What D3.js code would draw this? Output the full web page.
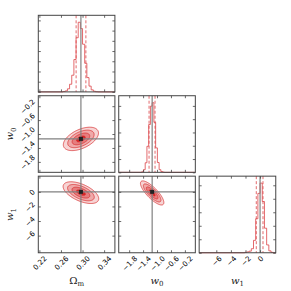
<!DOCTYPE html>
<html>
<head>
<meta charset="utf-8">
<script src="https://cdn.jsdelivr.net/npm/d3@7"></script>
<style>
  body { margin: 0; background: #fff; }
</style>
</head>
<body>
<div id="chart"></div>
<script>

// axis ranges, ticks and truth values per parameter
var omRange = [0.218, 0.360];
var w0Range = [-2.1, 0.1];
var w1Range = [-8.35, 2.15];
var omTicks = [0.22, 0.26, 0.30, 0.34];
var w0Ticks = [-1.8, -1.4, -1.0, -0.6, -0.2];
var w1Ticks = [-6, -4, -2, 0];
var truths = [0.297, -1.14, 0.0];

// 1d histograms: first bin edge, bin width, counts
var omBin = [0.264, 0.004];
var omCounts = [2, 6, 18, 45, 98, 190, 318, 409, 372, 280, 168, 84, 34, 12, 4, 1];
var w0Bin = [-1.44, 0.05];
var w0Counts = [4, 20, 72, 196, 360, 498, 524, 376, 184, 74, 20, 6, 2];
var w1Bin = [-2.1, 0.3];
var w1Counts = [3, 6, 12, 30, 92, 252, 440, 516, 380, 182, 58, 14, 3];
var histYStep = [60, 100, 100];

// 16% / 84% quantiles (dashed)
var omQuant = [0.2881, 0.3062];
var w0Quant = [-1.229, -1.057];
var w1Quant = [-0.52, 0.40];

// 2d contours: centre x, centre y, half width, half height (outer level), correlation
var omW0 = [0.297, -1.14, 0.0326, 0.336, 0.5];
var omW1 = [0.297, -0.11, 0.033, 1.49, -0.56];
var w0W1 = [-1.14, -0.15, 0.336, 1.65, -0.8];
var levelScale = [1, 0.75, 0.5, 0.25];
var levelAlpha = [0.2, 0.4, 0.6, 1.0];

var params = [
  { range: omRange, ticks: omTicks, fmt: d3.format(".2f"), bin: omBin, counts: omCounts, quant: omQuant },
  { range: w0Range, ticks: w0Ticks, fmt: d3.format(".1f"), bin: w0Bin, counts: w0Counts, quant: w0Quant },
  { range: w1Range, ticks: w1Ticks, fmt: d3.format("d"), bin: w1Bin, counts: w1Counts, quant: w1Quant }
];
var pairs = { "1,0": omW0, "2,0": omW1, "2,1": w0W1 };

var W = 291, H = 291;
var L = 38.3, T = 15.3, P = 76.6, G = 3.83;
var red = "#d62728", histColor = "#dc4448", frameColor = "#444", truthColor = "#808080";
var fs = 7.2, tl = 2.5, pad = 2;

var svg = d3.select("#chart").append("svg")
  .attr("width", W).attr("height", H)
  .style("font-family", "'DejaVu Sans', sans-serif");

function xScale(i) {
  var x0 = L + i * (P + G);
  return d3.scaleLinear().domain(params[i].range).range([x0, x0 + P]);
}
function yScale(j) {
  var y0 = T + j * (P + G);
  return d3.scaleLinear().domain(params[j].range).range([y0 + P, y0]);
}

// rotated tick labels, centred like matplotlib rotation=45
function xLabels(g) {
  g.selectAll(".tick text").each(function () {
    var t = d3.select(this);
    t.attr("y", 0).attr("dy", null).attr("x", 0)
      .attr("text-anchor", "middle").attr("dominant-baseline", "central");
    var w = this.getComputedTextLength();
    var half = (w + fs) * 0.7071 / 2;
    t.attr("transform", "translate(0," + (pad + half) + ") rotate(-45)");
  });
}
function yLabels(g) {
  g.selectAll(".tick text").each(function () {
    var t = d3.select(this);
    t.attr("x", 0).attr("dy", null).attr("y", 0)
      .attr("text-anchor", "middle").attr("dominant-baseline", "central");
    var w = this.getComputedTextLength();
    var half = (w + fs) * 0.7071 / 2;
    t.attr("transform", "translate(" + (-pad - half) + ",0) rotate(-45)");
  });
}

function styleAxis(g) {
  g.select(".domain").remove();
  g.attr("font-size", fs).attr("font-family", "'DejaVu Sans', sans-serif");
  g.selectAll(".tick line").attr("stroke", frameColor).attr("stroke-width", 0.8);
  g.selectAll(".tick text").attr("fill", "#000");
}

function drawXTicks(x, y0, ticks, fmt, showLabels) {
  var bottom = svg.append("g").attr("transform", "translate(0," + (y0 + P) + ")")
    .call(d3.axisBottom(x).tickValues(ticks).tickSize(-tl).tickPadding(0)
      .tickFormat(showLabels ? fmt : ""));
  styleAxis(bottom);
  if (showLabels) xLabels(bottom);
  var top = svg.append("g").attr("transform", "translate(0," + y0 + ")")
    .call(d3.axisTop(x).tickValues(ticks).tickSize(-tl).tickFormat(""));
  styleAxis(top);
}
function drawYTicks(y, x0, ticks, fmt, showLabels) {
  var left = svg.append("g").attr("transform", "translate(" + x0 + ",0)")
    .call(d3.axisLeft(y).tickValues(ticks).tickSize(-tl).tickPadding(0)
      .tickFormat(showLabels ? fmt : ""));
  styleAxis(left);
  if (showLabels) yLabels(left);
  var right = svg.append("g").attr("transform", "translate(" + (x0 + P) + ",0)")
    .call(d3.axisRight(y).tickValues(ticks).tickSize(-tl).tickFormat(""));
  styleAxis(right);
}

function ellipse(e, r) {
  var pts = [];
  for (var k = 0; k < 120; k++) {
    var t = 2 * Math.PI * k / 120;
    pts.push([e[0] + r * e[2] * Math.cos(t),
              e[1] + r * e[3] * (e[4] * Math.cos(t) + Math.sqrt(1 - e[4] * e[4]) * Math.sin(t))]);
  }
  return pts;
}

for (var i = 0; i < 3; i++) {
  for (var j = i; j < 3; j++) {
    var x = xScale(i);
    var x0 = L + i * (P + G), y0 = T + j * (P + G);
    var p = params[i];

    if (i == j) {
      // 1d histogram
      var ymax = 1.1 * d3.max(p.counts);
      var y = d3.scaleLinear().domain([0, ymax]).range([y0 + P, y0]);
      var pts = [[p.range[0], 0], [p.bin[0], 0]];
      p.counts.forEach(function (c, k) { pts.push([p.bin[0] + k * p.bin[1], c]); });
      pts.push([p.bin[0] + p.counts.length * p.bin[1], 0]);
      pts.push([p.range[1], 0]);
      svg.append("path")
        .datum(pts)
        .attr("fill", "none")
        .attr("stroke", histColor)
        .attr("stroke-width", 0.8)
        .attr("d", d3.line().curve(d3.curveStepAfter)
          .x(function (d) { return x(d[0]); })
          .y(function (d) { return y(d[1]); }));

      svg.selectAll(null).data(p.quant).enter().append("line")
        .attr("x1", function (d) { return x(d); })
        .attr("x2", function (d) { return x(d); })
        .attr("y1", y0).attr("y2", y0 + P)
        .attr("stroke", histColor).attr("stroke-width", 0.8)
        .attr("stroke-dasharray", "3,2");

      svg.append("line")
        .attr("x1", x(truths[i])).attr("x2", x(truths[i]))
        .attr("y1", y0).attr("y2", y0 + P)
        .attr("stroke", truthColor).attr("stroke-width", 1.2);

      drawYTicks(y, x0, d3.range(0, ymax, histYStep[i]), null, false);
    } else {
      // 2d contours
      var yy = yScale(j);
      var e = pairs[j + "," + i];
      var line = d3.line().curve(d3.curveLinearClosed)
        .x(function (d) { return x(d[0]); })
        .y(function (d) { return yy(d[1]); });
      levelScale.forEach(function (r, k) {
        svg.append("path")
          .datum(ellipse(e, r))
          .attr("fill", d3.interpolateRgb("#ffffff", red)(levelAlpha[k]))
          .attr("stroke", red)
          .attr("stroke-width", 0.7)
          .attr("d", line);
      });
      svg.append("line")
        .attr("x1", x(truths[i])).attr("x2", x(truths[i]))
        .attr("y1", y0).attr("y2", y0 + P)
        .attr("stroke", truthColor).attr("stroke-width", 1.2);
      svg.append("line")
        .attr("x1", x0).attr("x2", x0 + P)
        .attr("y1", yy(truths[j])).attr("y2", yy(truths[j]))
        .attr("stroke", truthColor).attr("stroke-width", 1.2);
      svg.append("rect")
        .attr("x", x(truths[i]) - 2).attr("y", yy(truths[j]) - 2)
        .attr("width", 4).attr("height", 4)
        .attr("fill", "#222");

      drawYTicks(yy, x0, params[j].ticks, params[j].fmt, i == 0);
    }

    drawXTicks(x, y0, p.ticks, p.fmt, j == 2);

    svg.append("rect")
      .attr("x", x0).attr("y", y0)
      .attr("width", P).attr("height", P)
      .attr("fill", "none")
      .attr("stroke", frameColor)
      .attr("stroke-width", 1);
  }
}

// axis labels
var names = [["\u03A9", "m", "normal"], ["w", "0", "italic"], ["w", "1", "italic"]];
function addLabel(g, n) {
  g.append("tspan").attr("font-style", n[2]).text(n[0]);
  g.append("tspan").attr("font-size", 7).attr("dy", 2.5).text(n[1]);
}
names.forEach(function (n, i) {
  var cx = L + i * (P + G) + P / 2;
  var t = svg.append("text")
    .attr("x", cx).attr("y", T + 2 * (P + G) + P + 23 + 8)
    .attr("text-anchor", "middle")
    .attr("font-family", "'DejaVu Serif', serif")
    .attr("font-size", 10)
    .attr("fill", "#222");
  addLabel(t, n);
});
names.slice(1).forEach(function (n, k) {
  var cy = T + (k + 1) * (P + G) + P / 2;
  var t = svg.append("text")
    .attr("transform", "translate(13," + cy + ") rotate(-90)")
    .attr("text-anchor", "middle")
    .attr("font-family", "'DejaVu Serif', serif")
    .attr("font-size", 10)
    .attr("fill", "#222");
  addLabel(t, n);
});

</script>
</body>
</html>
